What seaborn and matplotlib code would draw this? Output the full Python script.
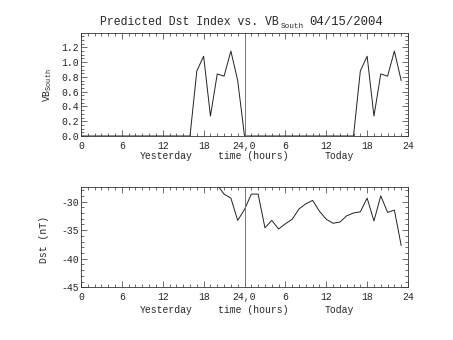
import numpy as np
import pandas as pd
import matplotlib
matplotlib.use("Agg")
import matplotlib.pyplot as plt
import matplotlib.transforms as mtransforms
from matplotlib.ticker import MultipleLocator, FixedLocator
import seaborn as sns

# ---- data ----
hours = list(range(48))
vb_south = [0.0, 0.0, 0.0, 0.0, 0.0, 0.0, 0.0, 0.0, 0.0, 0.0, 0.0, 0.0,
            0.0, 0.0, 0.0, 0.0, 0.0, 0.88, 1.08, 0.27, 0.84, 0.81, 1.15, 0.75,
            0.0, 0.0, 0.0, 0.0, 0.0, 0.0, 0.0, 0.0, 0.0, 0.0, 0.0, 0.0,
            0.0, 0.0, 0.0, 0.0, 0.0, 0.88, 1.08, 0.27, 0.84, 0.81, 1.15, 0.75]
nan = float("nan")
dst = [nan, nan, nan, nan, nan, nan, nan, nan, nan, nan, nan, nan,
       nan, nan, nan, nan, nan, nan, nan, nan, -27.1, -28.7, -29.4, -33.3,
       -31.4, -28.7, -28.7, -34.6, -33.3, -34.8, -33.9, -33.1, -31.3, -30.4, -29.8, -31.7,
       -33.1, -33.8, -33.6, -32.5, -32.0, -31.8, -29.4, -33.4, -29.0, -31.9, -31.5, -37.7]
xtick_pos = [0, 6, 12, 18, 24, 30, 36, 42, 48]
xtick_labels = ["0", "6", "12", "18", "24,0", "6", "12", "18", "24"]
day_boundary = 24
title_main = "Predicted Dst Index vs. VB"
title_sub = "South"
title_date = "04/15/2004"

df = pd.DataFrame({"hour": hours, "vb": vb_south, "dst": dst})

sns.set_style("ticks")
FONT = "Liberation Mono"
plt.rcParams["font.family"] = [FONT, "DejaVu Sans"]
plt.rcParams["mathtext.fontset"] = "custom"
plt.rcParams["mathtext.rm"] = FONT
plt.rcParams["mathtext.it"] = FONT
plt.rcParams["axes.unicode_minus"] = False

fig = plt.figure(figsize=(4.53, 3.40), dpi=100)
ax1 = fig.add_axes([0.1788, 0.600, 0.7219, 0.302])
ax2 = fig.add_axes([0.1788, 0.155, 0.7219, 0.296])

sns.lineplot(data=df, x="hour", y="vb", ax=ax1, color="#222222", lw=0.7)
sns.lineplot(data=df, x="hour", y="dst", ax=ax2, color="#222222", lw=0.7)

for ax in (ax1, ax2):
    ax.axvline(day_boundary, color="#777777", lw=0.7)
    ax.set_xlim(0, 48)
    ax.xaxis.set_major_locator(FixedLocator(xtick_pos))
    ax.set_xticklabels(xtick_labels)
    ax.xaxis.set_minor_locator(MultipleLocator(1))
    ax.tick_params(which="both", direction="in", top=True, right=True,
                   width=0.5, color="#333333", labelsize=7)
    ax.tick_params(which="major", length=4.5)
    ax.tick_params(which="minor", length=2.2)
    ax.tick_params(axis="x", pad=3.5)
    ax.tick_params(axis="y", pad=1.5)
    for sp in ax.spines.values():
        sp.set_linewidth(0.6)
        sp.set_color("#333333")
    ax.set_xlabel("")

ax1.set_ylim(0, 1.39)
ax1.yaxis.set_major_locator(MultipleLocator(0.2))
ax1.yaxis.set_minor_locator(MultipleLocator(0.05))
ax1.yaxis.set_major_formatter(matplotlib.ticker.FormatStrFormatter("%.1f"))
ax1.set_ylabel("VB$_{\\mathrm{South}}$", fontsize=7)
ax1.yaxis.set_label_coords(-0.083, 0.5)

ax2.set_ylim(-45, -27.4)
ax2.yaxis.set_major_locator(MultipleLocator(5))
ax2.yaxis.set_minor_locator(MultipleLocator(1))
ax2.set_ylabel("Dst (nT)", fontsize=7)
ax2.yaxis.set_label_coords(-0.098, 0.47)

for ax, yoff in ((ax1, -0.195), (ax2, -0.225)):
    tr = mtransforms.blended_transform_factory(ax.transData, ax.transAxes)
    ax.text(12.5, yoff, "Yesterday", transform=tr, ha="center", va="center", fontsize=7)
    ax.text(25.3, yoff, "time (hours)", transform=tr, ha="center", va="center", fontsize=7)
    ax.text(37.9, yoff, "Today", transform=tr, ha="center", va="center", fontsize=7)

# title pieces placed in pixel-based figure coordinates
W, H = 453.0, 340.0
fig.text(100 / W, 1 - 25 / H, title_main, ha="left", va="baseline", fontsize=8.3)
fig.text(281 / W, 1 - 28 / H, title_sub, ha="left", va="baseline", fontsize=5.5)
fig.text(383 / W, 1 - 25 / H, title_date, ha="right", va="baseline", fontsize=8.8)

fig.savefig("out.png", dpi=100)
